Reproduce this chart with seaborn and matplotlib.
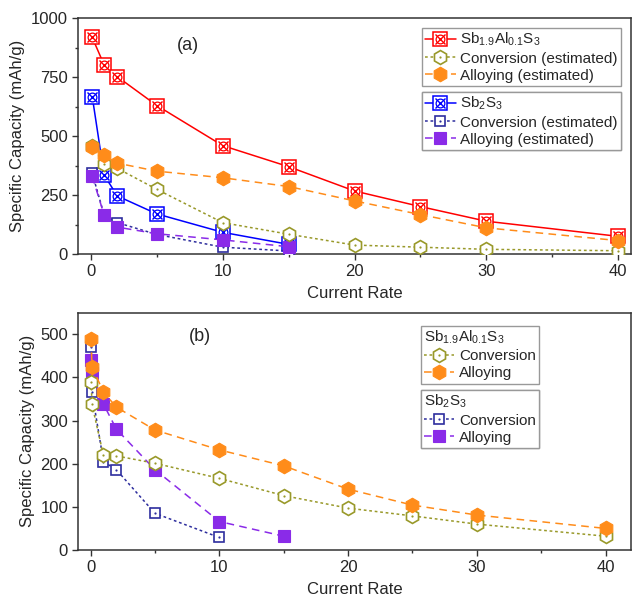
import matplotlib
matplotlib.use('Agg')
import matplotlib.pyplot as plt
import seaborn as sns
from matplotlib.lines import Line2D
from matplotlib.legend_handler import HandlerTuple
from matplotlib.ticker import MultipleLocator

# Dados do painel (a)
taxa_al_a = [0.1, 1, 2, 5, 10, 15, 20, 25, 30, 40]
al_total_a = [918, 802, 752, 630, 460, 371, 268, 202, 140, 76]
al_conv_a = [458, 383, 364, 275, 134, 85, 39, 30, 21, 15]
al_liga_a = [456, 421, 386, 352, 324, 287, 226, 168, 112, 58]

taxa_sb_a = [0.1, 1, 2, 5, 10, 15]
sb_total_a = [668, 336, 247, 171, 93, 42]
sb_conv_a = [343, 167, 134, 84, 30, 14]
sb_liga_a = [330, 167, 115, 87, 61, 32]

# Dados do painel (b)
taxa_al_b = [0.05, 0.1, 1, 2, 5, 10, 15, 20, 25, 30, 40]
al_conv_b = [389, 338, 219, 218, 201, 166, 126, 97, 79, 60, 32]
al_liga_b = [488, 425, 366, 331, 278, 232, 195, 141, 104, 81, 50]

taxa_sb_conv_b = [0.05, 0.1, 1, 2, 5, 10]
sb_conv_b = [470, 367, 205, 186, 85, 29]
taxa_sb_liga_b = [0.05, 0.1, 1, 2, 5, 10, 15]
sb_liga_b = [441, 410, 338, 280, 186, 66, 32]

nome_al = 'Sb$_{1.9}$Al$_{0.1}$S$_3$'
nome_sb = 'Sb$_2$S$_3$'

VERMELHO = '#FF0000'
OLIVA = '#99992A'
LARANJA = '#FF8C1A'
AZUL = '#0000FF'
MARINHO = '#2E2E9E'
ROXO = '#8A2BE8'

PONTILHADO = (0, (1.8, 1.8))
TRACEJADO = (0, (5, 3.5))

sns.set_style('ticks')
plt.rcParams['font.family'] = ['Liberation Sans', 'DejaVu Sans']
plt.rcParams['mathtext.default'] = 'regular'


def marcadores(tipo, cor):
    if tipo == 'quadrado_x':
        return [dict(marker='s', markersize=9.5, markerfacecolor='white', markeredgecolor=cor, markeredgewidth=1.1),
                dict(marker='x', markersize=7, markeredgecolor=cor, markeredgewidth=1.0),
                dict(marker='o', markersize=6.3, markerfacecolor='none', markeredgecolor=cor, markeredgewidth=0.9)]
    if tipo == 'hex_aberto':
        return [dict(marker='h', markersize=10, markerfacecolor='white', markeredgecolor=cor, markeredgewidth=1.2),
                dict(marker='o', markersize=1.6, markerfacecolor=cor, markeredgecolor=cor, markeredgewidth=0)]
    if tipo == 'hex_cheio':
        return [dict(marker='h', markersize=10.5, markerfacecolor=cor, markeredgecolor=cor, markeredgewidth=0.8)]
    if tipo == 'quad_aberto':
        return [dict(marker='s', markersize=7.5, markerfacecolor='white', markeredgecolor=cor, markeredgewidth=1.2),
                dict(marker='o', markersize=1.6, markerfacecolor=cor, markeredgecolor=cor, markeredgewidth=0)]
    return [dict(marker='s', markersize=8.5, markerfacecolor=cor, markeredgecolor=cor, markeredgewidth=0.8)]


def desenhar_serie(ax, x, y, cor, estilo, tipo, z):
    sns.lineplot(x=x, y=y, ax=ax, color=cor, linestyle=estilo, linewidth=1.1, zorder=z)
    handle = [Line2D([], [], color=cor, linestyle=estilo, linewidth=1.1)]
    for m in marcadores(tipo, cor):
        sns.lineplot(x=x, y=y, ax=ax, color=cor, linestyle='', zorder=z + 0.1, **m)
        handle.append(Line2D([], [], linestyle='', **m))
    return tuple(handle)


def formatar_eixo(ax, xlim, ylim, ymaior, ymenor=None):
    ax.set_xlim(*xlim)
    ax.set_ylim(*ylim)
    ax.xaxis.set_major_locator(MultipleLocator(10))
    ax.xaxis.set_minor_locator(MultipleLocator(5))
    ax.yaxis.set_major_locator(MultipleLocator(ymaior))
    if ymenor:
        ax.yaxis.set_minor_locator(MultipleLocator(ymenor))
    ax.tick_params(which='major', direction='out', length=4, width=1, color='#333333',
                   labelsize=12, pad=3)
    ax.tick_params(which='minor', direction='out', length=2.3, width=1, color='#333333')
    for lado in ['top', 'right', 'left', 'bottom']:
        ax.spines[lado].set_visible(True)
        ax.spines[lado].set_color('#333333')
        ax.spines[lado].set_linewidth(1.1)
    ax.set_xlabel('Current Rate', fontsize=12, labelpad=5)
    ax.set_ylabel('Specific Capacity (mAh/g)', fontsize=12, labelpad=4)


def legenda(ax, handles, rotulos, pos, titulo=None):
    leg = ax.legend(handles, rotulos, loc='upper right', bbox_to_anchor=pos,
                    handler_map={tuple: HandlerTuple(ndivide=1, pad=0)},
                    fontsize=11, title=titulo, title_fontsize=11, alignment='left',
                    frameon=True, fancybox=False, framealpha=1, edgecolor='#999999',
                    borderpad=0.2, labelspacing=0.2, handlelength=2.0,
                    handletextpad=0.3, borderaxespad=0)
    leg.get_frame().set_linewidth(1.0)
    ax.add_artist(leg)
    return leg


fig = plt.figure(figsize=(6.32, 6.04), dpi=100)
ax_a = fig.add_axes([0.123, 0.579, 0.876, 0.391])
ax_b = fig.add_axes([0.123, 0.0894, 0.876, 0.393])

# Painel (a)
h_sb = desenhar_serie(ax_a, taxa_sb_a, sb_total_a, AZUL, '-', 'quadrado_x', 2)
h_sb_c = desenhar_serie(ax_a, taxa_sb_a, sb_conv_a, MARINHO, PONTILHADO, 'quad_aberto', 3)
h_sb_l = desenhar_serie(ax_a, taxa_sb_a, sb_liga_a, ROXO, TRACEJADO, 'quad_cheio', 4)
h_al = desenhar_serie(ax_a, taxa_al_a, al_total_a, VERMELHO, '-', 'quadrado_x', 5)
h_al_c = desenhar_serie(ax_a, taxa_al_a, al_conv_a, OLIVA, PONTILHADO, 'hex_aberto', 6)
h_al_l = desenhar_serie(ax_a, taxa_al_a, al_liga_a, LARANJA, TRACEJADO, 'hex_cheio', 7)

formatar_eixo(ax_a, (-1, 41), (0, 1000), 250, 125)
ax_a.text(0.199, 0.886, '(a)', transform=ax_a.transAxes, fontsize=13, ha='center', va='center')
legenda(ax_a, [h_al, h_al_c, h_al_l],
        [nome_al, 'Conversion (estimated)', 'Alloying (estimated)'], (0.981, 0.958))
legenda(ax_a, [h_sb, h_sb_c, h_sb_l],
        [nome_sb, 'Conversion (estimated)', 'Alloying (estimated)'], (0.981, 0.687))

# Painel (b)
h2_sb_c = desenhar_serie(ax_b, taxa_sb_conv_b, sb_conv_b, MARINHO, PONTILHADO, 'quad_aberto', 2)
h2_sb_l = desenhar_serie(ax_b, taxa_sb_liga_b, sb_liga_b, ROXO, TRACEJADO, 'quad_cheio', 3)
h2_al_c = desenhar_serie(ax_b, taxa_al_b, al_conv_b, OLIVA, PONTILHADO, 'hex_aberto', 4)
h2_al_l = desenhar_serie(ax_b, taxa_al_b, al_liga_b, LARANJA, TRACEJADO, 'hex_cheio', 5)

formatar_eixo(ax_b, (-1, 42), (0, 550), 100)
ax_b.text(0.221, 0.898, '(b)', transform=ax_b.transAxes, fontsize=13, ha='center', va='center')
legenda(ax_b, [h2_al_c, h2_al_l], ['Conversion', 'Alloying'], (0.833, 0.944), titulo=nome_al)
legenda(ax_b, [h2_sb_c, h2_sb_l], ['Conversion', 'Alloying'], (0.833, 0.674), titulo=nome_sb)

fig.savefig('out.png', dpi=100)
